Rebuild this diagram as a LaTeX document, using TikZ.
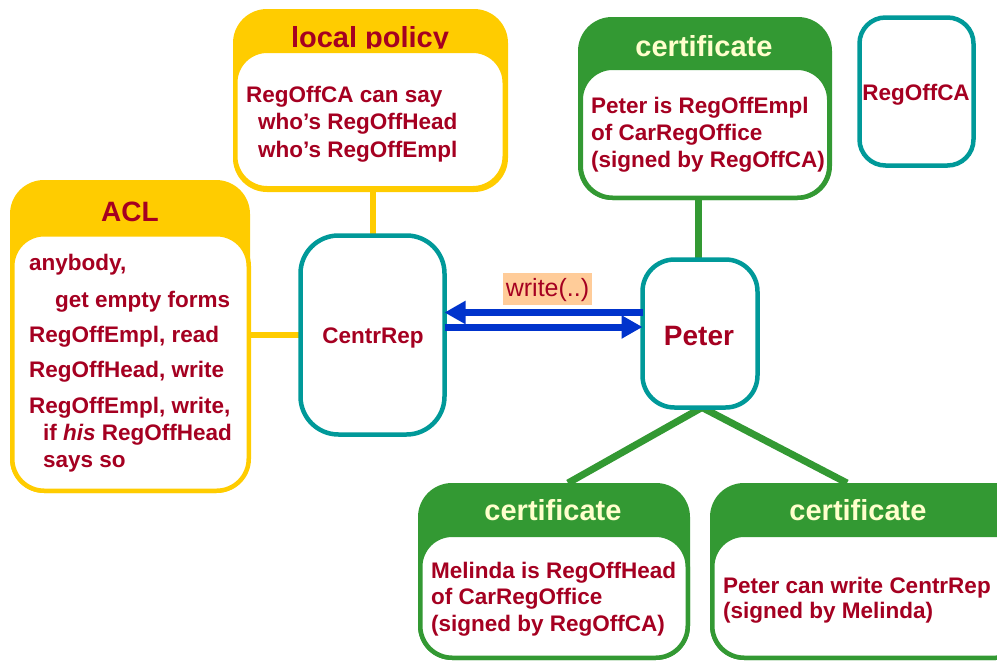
\documentclass[tikz,border=0pt]{standalone}
\usepackage{fontspec}
\setmainfont{Liberation Sans}
\usetikzlibrary{arrows.meta}

\definecolor{txtred}{HTML}{A50021}
\definecolor{polyellow}{HTML}{FFCC00}
\definecolor{certgreen}{HTML}{339933}
\definecolor{boxteal}{HTML}{009999}
\definecolor{msgblue}{HTML}{0033CC}
\definecolor{headtxt}{HTML}{FFFFCC}
\definecolor{labelbg}{HTML}{FFCC99}

\pgfdeclarelayer{bg}
\pgfsetlayers{bg,main}

\tikzset{
  panelhead/.style={fill=#1, draw=none, rounded corners=34pt, inner sep=0pt,
    outer sep=0pt, anchor=north west},
  panelbody/.style={fill=white, draw=#1, line width=4.5pt, rounded corners=32pt,
    inner sep=0pt, outer sep=0pt, anchor=north west},
  principal/.style={fill=white, draw=boxteal, line width=4.5pt, rounded corners=#1,
    inner sep=0pt, outer sep=0pt, anchor=north west},
  ttl/.style={font=\fontsize{29}{29}\selectfont\bfseries, inner sep=0pt, anchor=base},
  body/.style={font=\fontsize{22.5}{27}\selectfont\bfseries, text=txtred,
    inner sep=0pt, anchor=base west},
  princlbl/.style={font=\fontsize{22.5}{27}\selectfont\bfseries, text=txtred,
    inner sep=0pt, anchor=base},
  ylink/.style={draw=polyellow, line width=6pt},
  glink/.style={draw=certgreen, line width=7pt},
  msg/.style={draw=msgblue, line width=7pt, -{Triangle[length=21pt,width=22pt]}},
}

\begin{document}
\begin{tikzpicture}[x=1pt,y=-1pt]
\useasboundingbox (0,0) rectangle (997,662);
\clip (0,0) rectangle (997,662);

% ---------- ACL panel ----------
\node[panelhead=polyellow, minimum width=240pt, minimum height=313pt] (aclhead) at (10,180) {};
\node[ttl, text=txtred, font=\fontsize{28}{28}\selectfont\bfseries] (acltitle) at (130,221) {ACL};
\node[panelbody=polyellow, minimum width=236.5pt, minimum height=256.5pt] (aclbody) at (12.25,234.25) {};
\node[body] (acl1) at (29,270) {anybody,};
\node[body] (acl2) at (55,307) {get empty forms};
\node[body] (acl3) at (29,342) {RegOffEmpl, read};
\node[body] (acl4) at (29,377) {RegOffHead, write};
\node[body] (acl5) at (29,413) {RegOffEmpl, write,};
\node[body] (acl6) at (43,440) {if \textit{his} RegOffHead};
\node[body] (acl7) at (43,467) {says so};

% ---------- local policy panel ----------
\node[panelhead=polyellow, minimum width=275pt, minimum height=183pt] (lphead) at (233,9) {};
\node[ttl, text=txtred] (lptitle) at (370,47) {local policy};
\node[panelbody=polyellow, minimum width=269.5pt, minimum height=137.5pt] (lpbody) at (235.25,50.75) {};
\node[body] (lp1) at (246,102) {RegOffCA can say};
\node[body] (lp2) at (258,129) {who’s RegOffHead};
\node[body] (lp3) at (258,157) {who’s RegOffEmpl};

% ---------- certificate above Peter ----------
\node[panelhead=certgreen, minimum width=254pt, minimum height=183pt] (tchead) at (578,17) {};
\node[ttl, text=headtxt] (tctitle) at (704,56) {certificate};
\node[panelbody=certgreen, minimum width=248.5pt, minimum height=130pt] (tcbody) at (580.75,67.75) {};
\node[body] (tc1) at (591,113) {Peter is RegOffEmpl};
\node[body] (tc2) at (591,140) {of CarRegOffice};
\node[body] (tc3) at (591,167) {(signed by RegOffCA)};

% ---------- certificate of Melinda ----------
\node[panelhead=certgreen, minimum width=272pt, minimum height=177pt] (lchead) at (418,483) {};
\node[ttl, text=headtxt] (lctitle) at (553,520) {certificate};
\node[panelbody=certgreen, minimum width=267.5pt, minimum height=123pt] (lcbody) at (420.25,534.75) {};
\node[body] (lc1) at (431,578) {Melinda is RegOffHead};
\node[body] (lc2) at (431,604) {of CarRegOffice};
\node[body] (lc3) at (431,631) {(signed by RegOffCA)};

% ---------- certificate granting write access ----------
\node[panelhead=certgreen, minimum width=320pt, minimum height=177pt] (rchead) at (710,483) {};
\node[ttl, text=headtxt] (rctitle) at (858,520) {certificate};
\node[panelbody=certgreen, minimum width=315.5pt, minimum height=123pt] (rcbody) at (712.25,534.75) {};
\node[body] (rc1) at (723,593) {Peter can write CentrRep};
\node[body] (rc2) at (723,618) {(signed by Melinda)};

% ---------- principals ----------
\node[principal=38pt, minimum width=144pt, minimum height=199pt] (centr) at (300.5,235.5) {};
\node[princlbl] (centrlbl) at (373,343) {CentrRep};
\node[principal=32pt, minimum width=115pt, minimum height=148pt] (peter) at (642.5,259.5) {};
\node[princlbl, font=\fontsize{28}{28}\selectfont\bfseries] (peterlbl) at (699,345) {Peter};
\node[principal=26pt, minimum width=114pt, minimum height=148pt] (ca) at (859.5,17.5) {};
\node[princlbl] (calbl) at (916,100) {RegOffCA};

% ---------- links ----------
\begin{pgfonlayer}{bg}
  \draw[ylink] (lpbody.south -| centr.north) ++(0.5,0) coordinate (lpfoot) -- (lpfoot |- centr.north);
  \draw[ylink] (aclbody.east |- centr.west) -- (centr.west);
  \draw[glink] (tcbody.south -| peter.north) ++(-2,0) coordinate (tcfoot) -- (tcfoot |- peter.north);
  \draw[glink] ([xshift=2pt]peter.south) -- ([xshift=150pt]lchead.north west);
  \draw[glink] ([xshift=2pt]peter.south) -- ([xshift=137pt]rchead.north west);
\end{pgfonlayer}

% ---------- messages ----------
\draw[msg] ([yshift=21pt]peter.west) -- ([yshift=21pt]peter.west -| centr.east);
\draw[msg] ([yshift=6.5pt]peter.west -| centr.east) -- ([yshift=6.5pt]peter.west);
\node[fill=labelbg, inner sep=0pt, minimum width=89pt, minimum height=32pt,
      text=txtred, font=\fontsize{25}{25}\selectfont, text height=18pt, text depth=4pt]
      (writelbl) at (547.5,289) {write(..)};
\end{tikzpicture}
\end{document}
